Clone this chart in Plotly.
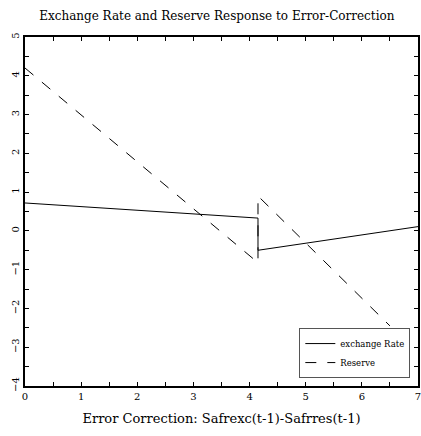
import plotly.graph_objects as go

# Data
exch_x = [0.0, 4.15, 4.15, 7.0]
exch_y = [0.72, 0.33, -0.50, 0.11]

res_x = [0.0, 4.15, 4.15, 6.5]
res_y = [4.2, -0.82, 0.9, -2.45]

x_ticks = [0, 1, 2, 3, 4, 5, 6, 7]
y_ticks = [-4, -3, -2, -1, 0, 1, 2, 3, 4, 5]

serif = "DejaVu Serif, Liberation Serif, serif"

fig = go.Figure()
fig.add_trace(go.Scatter(x=exch_x, y=exch_y, mode="lines", name="exchange Rate",
                         line=dict(color="black", width=1)))
fig.add_trace(go.Scatter(x=res_x, y=res_y, mode="lines", name="Reserve",
                         line=dict(color="black", width=1, dash="11px,11px")))

axis_common = dict(
    showgrid=False, zeroline=False, showline=True, linecolor="black", linewidth=1.5,
    mirror="allticks", ticks="inside", ticklen=4, tickcolor="black", tickwidth=1,
    minor=dict(ticks="inside", ticklen=4, tickcolor="black", dtick=0.5, showgrid=False),
    tickfont=dict(family=serif, size=10, color="black"),
    automargin=False, ticklabeloverflow="allow",
)

fig.update_layout(
    width=421, height=436,
    margin=dict(l=25, r=3, t=37, b=50),
    paper_bgcolor="white", plot_bgcolor="white",
    title=dict(text="Exchange Rate and Reserve Response to Error-Correction",
               x=0.515, xanchor="center", y=0.963, yanchor="middle",
               font=dict(family=serif, size=12, color="black"), automargin=False),
    xaxis=dict(range=[0, 7], tickvals=x_ticks, title=dict(
        text="Error Correction: Safrexc(t-1)-Safrres(t-1)",
        font=dict(family=serif, size=13, color="black"), standoff=13), **axis_common),
    yaxis=dict(range=[-4, 5], tickvals=y_ticks, tickangle=-90, **axis_common),
    legend=dict(x=0.698, y=0.166, xanchor="left", yanchor="top",
                bgcolor="white", bordercolor="#555", borderwidth=1,
                font=dict(family=serif, size=8.5, color="black"),
                itemwidth=30, tracegroupgap=0),
    showlegend=True,
)

fig.write_html("out.html", config={"displayModeBar": False},
               post_script="document.body.style.margin='0';")
